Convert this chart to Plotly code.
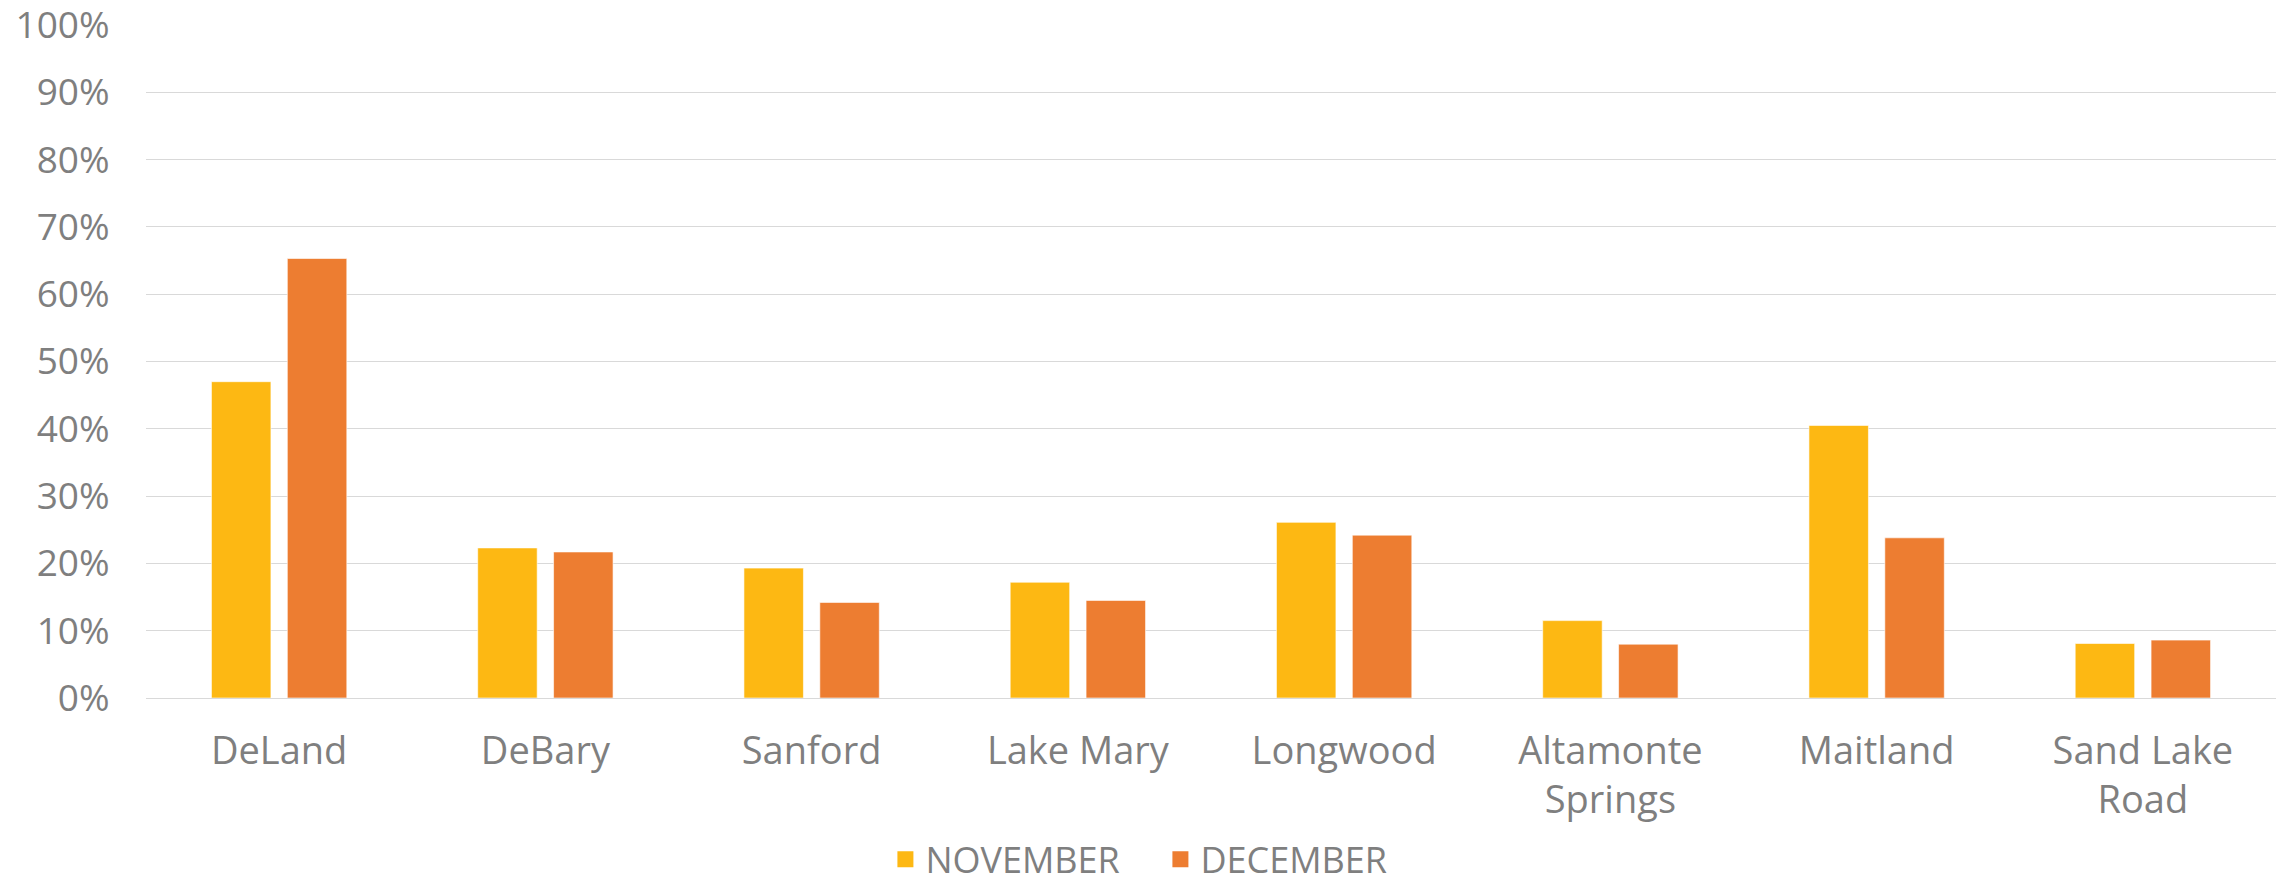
import plotly.graph_objects as go

categories = ["DeLand", "DeBary", "Sanford", "Lake Mary", "Longwood",
              "Altamonte<br>Springs", "Maitland", "Sand Lake<br>Road"]
november = [47.0, 22.3, 19.3, 17.2, 26.1, 11.5, 40.5, 8.1]
december = [65.3, 21.7, 14.2, 14.5, 24.2, 8.0, 23.8, 8.6]
series_names = ["NOVEMBER", "DECEMBER"]
colors = ["#FDB813", "#ED7D31"]
y_ticks = list(range(0, 101, 10))
y_tick_text = [f"{v}%" for v in y_ticks]

FONT = "Open Sans, Lato, sans-serif"
GRAY = "#7F7F7F"

fig = go.Figure()
for name, vals, col in zip(series_names, [november, december], colors):
    fig.add_trace(go.Bar(
        x=categories, y=vals, name=name,
        marker=dict(color=col, line=dict(color="rgba(255,255,255,0.6)", width=1)),
        showlegend=False,
    ))
    fig.add_trace(go.Scatter(
        x=[None], y=[None], mode="markers", name=name,
        marker=dict(symbol="square", size=20, color=col),
        showlegend=True,
    ))

# page body has an 8px margin: compensate so the plot lands where the reference has it
fig.update_layout(
    width=2282, height=874,
    margin=dict(l=138, r=14, t=17, b=184, autoexpand=False),
    paper_bgcolor="white", plot_bgcolor="white",
    bargap=0.43, bargroupgap=0.216, barmode="group",
    font=dict(family=FONT, color=GRAY),
    legend=dict(
        orientation="h", xref="container", yref="container",
        x=0.505, xanchor="center", y=0.026, yanchor="middle",
        font=dict(size=36, color=GRAY, family=FONT),
        itemsizing="trace", tracegroupgap=0,
        entrywidth=230, entrywidthmode="pixels",
    ),
)
fig.update_xaxes(
    showgrid=False, showline=False, zeroline=False,
    tickfont=dict(size=38, color=GRAY, family=FONT),
    ticks="outside", ticklen=19, tickcolor="rgba(0,0,0,0)",
)
fig.update_yaxes(
    range=[0, 100], tickmode="array", tickvals=y_ticks, ticktext=y_tick_text,
    ticklabeloverflow="allow",
    showgrid=True, gridcolor="#D9D9D9", gridwidth=1.3,
    zeroline=True, zerolinecolor="#D9D9D9", zerolinewidth=1.3,
    showline=False,
    tickfont=dict(size=37, color=GRAY, family=FONT),
    ticks="outside", ticklen=28, tickcolor="rgba(0,0,0,0)",
)

fig.write_html("out.html")
